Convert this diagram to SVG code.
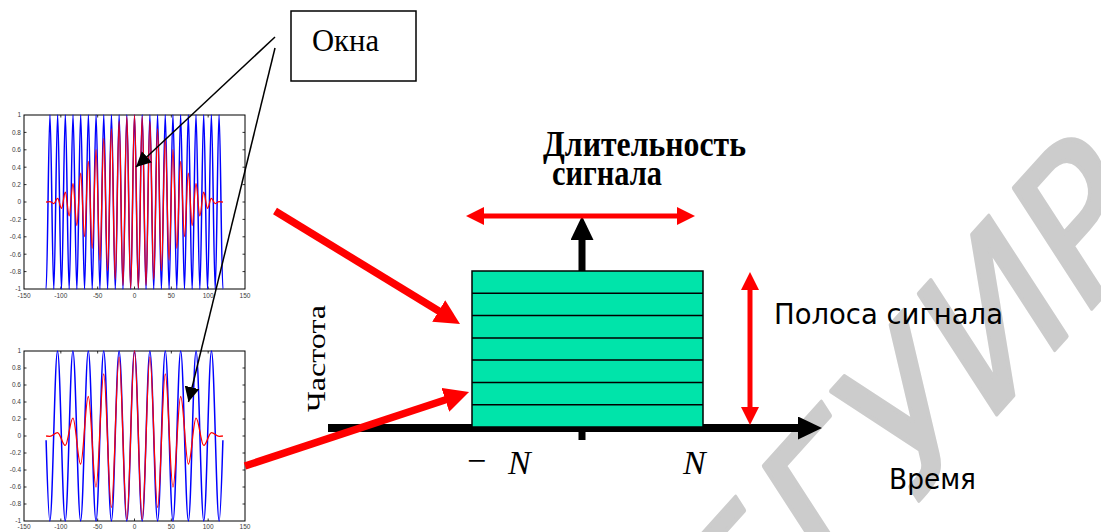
<svg xmlns="http://www.w3.org/2000/svg" width="1101" height="532" viewBox="0 0 1101 532">
<style>
.wm{font-family:"DejaVu Sans",sans-serif;font-size:190px;fill:#cccccc;stroke:#cccccc;stroke-width:4;stroke-linejoin:round}
.ax{fill:#fff;stroke:#000;stroke-width:1}
.tk{fill:none;stroke:#000;stroke-width:0.8}
.tl{font-family:"Liberation Sans",Arial,sans-serif;font-size:6.5px;fill:#3a3a3a}
.blue{fill:none;stroke:#0000ff;stroke-width:1.5}
.red{fill:none;stroke:#ff0000;stroke-width:1.3}
.thin{fill:none;stroke:#000;stroke-width:1.5}
.rthick{fill:none;stroke:#ff0000;stroke-width:7.5}
.rmid{fill:none;stroke:#ff0000;stroke-width:5}
.bthick{fill:none;stroke:#000;stroke-width:8}
.serif{font-family:"Liberation Serif","Times New Roman",serif;fill:#000}
.sans{font-family:"DejaVu Sans",Verdana,sans-serif;fill:#000;font-size:29px}
.strip{stroke:#000;stroke-width:1.5}
</style>
<defs>
<marker id="ahThin" markerWidth="16" markerHeight="16" refX="15" refY="7.5" orient="auto" markerUnits="userSpaceOnUse"><path d="M0,0 L15,7.5 L0,15 z" fill="#000"/></marker>
<marker id="ahRed" markerWidth="26" markerHeight="26" refX="2" refY="12.5" orient="auto" markerUnits="userSpaceOnUse"><path d="M0,0 L25,12.5 L0,25 z" fill="#ff0000"/></marker>
<marker id="ahRedS" markerWidth="19" markerHeight="19" refX="2" refY="9" orient="auto-start-reverse" markerUnits="userSpaceOnUse"><path d="M0,0 L18,9 L0,18 z" fill="#ff0000"/></marker>
<marker id="ahBlk" markerWidth="25" markerHeight="25" refX="2" refY="11.5" orient="auto" markerUnits="userSpaceOnUse"><path d="M0,0 L24,11.5 L0,23 z" fill="#000"/></marker>
</defs>
<rect width="1101" height="532" fill="#fff"/>
<g id="watermark">
<text class="wm" transform="translate(742,697) rotate(-48) skewX(-15)">БГУИР</text>
</g>
<g id="plot-top">
<rect class="ax" x="24" y="115" width="221" height="174"/>
<path class="tk" d="M60.83,289v-2.5M97.67,289v-2.5M134.5,289v-2.5M171.33,289v-2.5M208.17,289v-2.5M60.83,115v2.5M97.67,115v2.5M134.5,115v2.5M171.33,115v2.5M208.17,115v2.5M24,132.4h2.5M24,149.8h2.5M24,167.2h2.5M24,184.6h2.5M24,202h2.5M24,219.4h2.5M24,236.8h2.5M24,254.2h2.5M24,271.6h2.5M245,132.4h-2.5M245,149.8h-2.5M245,167.2h-2.5M245,184.6h-2.5M245,202h-2.5M245,219.4h-2.5M245,236.8h-2.5M245,254.2h-2.5M245,271.6h-2.5"/>
<path class="blue" d="M46.10,289 c1.397,0 2.447,-174 3.8435,-174 s2.447,174 3.8435,174 s2.447,-174 3.8435,-174 s2.447,174 3.8435,174 s2.447,-174 3.8435,-174 s2.447,174 3.8435,174 s2.447,-174 3.8435,-174 s2.447,174 3.8435,174 s2.447,-174 3.8435,-174 s2.447,174 3.8435,174 s2.447,-174 3.8435,-174 s2.447,174 3.8435,174 s2.447,-174 3.8435,-174 s2.447,174 3.8435,174 s2.447,-174 3.8435,-174 s2.447,174 3.8435,174 s2.447,-174 3.8435,-174 s2.447,174 3.8435,174 s2.447,-174 3.8435,-174 s2.447,174 3.8435,174 s2.447,-174 3.8435,-174 s2.447,174 3.8435,174 s2.447,-174 3.8435,-174 s2.447,174 3.8435,174 s2.447,-174 3.8435,-174 s2.447,174 3.8435,174 s2.447,-174 3.8435,-174 s2.447,174 3.8435,174 s2.447,-174 3.8435,-174 s2.447,174 3.8435,174 s2.447,-174 3.8435,-174 s2.447,174 3.8435,174 s2.447,-174 3.8435,-174 s2.447,174 3.8435,174 s2.447,-174 3.8435,-174 s2.447,174 3.8435,174 s2.447,-174 3.8435,-174 s2.447,174 3.8435,174 s2.447,-174 3.8435,-174 s2.447,174 3.8435,174 s2.447,-174 3.8435,-174 s2.447,174 3.8435,174 s2.447,-174 3.8435,-174 s2.447,174 3.8435,174 s2.447,-174 3.8435,-174 s2.447,174 3.8435,174"/>
<path class="red" d="M46.10,202 C47.50,202 48.54,201.59 49.94,201.59 S52.39,203.61 53.79,203.61 S56.23,198.40 57.63,198.40 S60.07,208.33 61.47,208.33 S63.92,192.24 65.32,192.24 S67.76,215.81 69.16,215.81 S71.60,183.59 73.00,183.59 S75.45,225.49 76.85,225.49 S79.29,173.07 80.69,173.07 S83.13,236.65 84.53,236.65 S86.98,161.47 88.38,161.47 S90.82,248.47 92.22,248.47 S94.67,149.65 96.07,149.65 S98.51,260.07 99.91,260.07 S102.35,138.49 103.75,138.49 S106.20,270.59 107.60,270.59 S110.04,128.81 111.44,128.81 S113.88,279.24 115.28,279.24 S117.73,121.33 119.13,121.33 S121.57,285.40 122.97,285.40 S125.41,116.61 126.81,116.61 S129.26,288.60 130.66,288.60 S133.10,115 134.50,115 S136.94,288.60 138.34,288.60 S140.79,116.61 142.19,116.61 S144.63,285.40 146.03,285.40 S148.47,121.33 149.87,121.33 S152.32,279.24 153.72,279.24 S156.16,128.81 157.56,128.81 S160.00,270.59 161.40,270.59 S163.85,138.49 165.25,138.49 S167.69,260.07 169.09,260.07 S171.54,149.65 172.94,149.65 S175.38,248.47 176.78,248.47 S179.22,161.47 180.62,161.47 S183.07,236.65 184.47,236.65 S186.91,173.07 188.31,173.07 S190.75,225.49 192.15,225.49 S194.60,183.59 196.00,183.59 S198.44,215.81 199.84,215.81 S202.28,192.24 203.68,192.24 S206.13,208.33 207.53,208.33 S209.97,198.40 211.37,198.40 S213.81,203.61 215.21,203.61 S217.66,201.59 219.06,201.59 S221.50,202 222.90,202"/>
<g class="tl" text-anchor="end">
<text x="21" y="117.3">1</text><text x="21" y="134.7">0.8</text><text x="21" y="152.1">0.6</text><text x="21" y="169.5">0.4</text><text x="21" y="186.9">0.2</text><text x="21" y="204.3">0</text><text x="21" y="221.7">-0.2</text><text x="21" y="239.1">-0.4</text><text x="21" y="256.5">-0.6</text><text x="21" y="273.9">-0.8</text><text x="21" y="291.3">-1</text>
</g>
<g class="tl" text-anchor="middle">
<text x="24" y="297.5">-150</text><text x="60.83" y="297.5">-100</text><text x="97.67" y="297.5">-50</text><text x="134.5" y="297.5">0</text><text x="171.33" y="297.5">50</text><text x="208.17" y="297.5">100</text><text x="245" y="297.5">150</text>
</g>
</g>
<g id="plot-bottom">
<rect class="ax" x="24" y="351" width="221" height="170"/>
<path class="tk" d="M60.83,521v-2.5M97.67,521v-2.5M134.5,521v-2.5M171.33,521v-2.5M208.17,521v-2.5M60.83,351v2.5M97.67,351v2.5M134.5,351v2.5M171.33,351v2.5M208.17,351v2.5M24,368h2.5M24,385h2.5M24,402h2.5M24,419h2.5M24,436h2.5M24,453h2.5M24,470h2.5M24,487h2.5M24,504h2.5M245,368h-2.5M245,385h-2.5M245,402h-2.5M245,419h-2.5M245,436h-2.5M245,453h-2.5M245,470h-2.5M245,487h-2.5M245,504h-2.5"/>
<path class="blue" d="M46.10,440.3 C47.34,482.6 48.60,521 49.82,521 c2.80,0 4.90,-170 7.698,-170 s4.90,170 7.698,170 s4.90,-170 7.698,-170 s4.90,170 7.698,170 s4.90,-170 7.698,-170 s4.90,170 7.698,170 s4.90,-170 7.698,-170 s4.90,170 7.698,170 s4.90,-170 7.698,-170 s4.90,170 7.698,170 s4.90,-170 7.698,-170 s4.90,170 7.698,170 s4.90,-170 7.698,-170 s4.90,170 7.698,170 s4.90,-170 7.698,-170 s4.90,170 7.698,170 s4.90,-170 7.698,-170 s4.90,170 7.698,170 s4.90,-170 7.698,-170 s4.90,170 7.698,170 s4.90,-170 7.698,-170 s4.90,170 7.698,170 c1.24,0 2.48,-38.4 3.72,-80.7"/>
<path class="red" d="M46.10,436 L49.82,436.37 C52.62,436.37 54.72,432.55 57.52,432.55 S62.42,445.43 65.22,445.43 S70.12,418.12 72.92,418.12 S77.81,464.15 80.61,464.15 S85.51,396.50 88.31,396.50 S93.21,487.07 96.01,487.07 S100.91,374.01 103.71,374.01 S108.61,507.47 111.41,507.47 S116.30,357.20 119.10,357.20 S124.00,519.42 126.80,519.42 S131.70,351 134.50,351 S139.40,519.42 142.20,519.42 S147.10,357.20 149.90,357.20 S154.79,507.47 157.59,507.47 S162.49,374.01 165.29,374.01 S170.19,487.07 172.99,487.07 S177.89,396.50 180.69,396.50 S185.59,464.15 188.39,464.15 S193.28,418.12 196.08,418.12 S200.98,445.43 203.78,445.43 S208.68,432.55 211.48,432.55 S216.38,436.37 219.18,436.37 L222.90,436"/>
<g class="tl" text-anchor="end">
<text x="21" y="353.3">1</text><text x="21" y="370.3">0.8</text><text x="21" y="387.3">0.6</text><text x="21" y="404.3">0.4</text><text x="21" y="421.3">0.2</text><text x="21" y="438.3">0</text><text x="21" y="455.3">-0.2</text><text x="21" y="472.3">-0.4</text><text x="21" y="489.3">-0.6</text><text x="21" y="506.3">-0.8</text><text x="21" y="523.3">-1</text>
</g>
<g class="tl" text-anchor="middle">
<text x="24" y="529">-150</text><text x="60.83" y="529">-100</text><text x="97.67" y="529">-50</text><text x="134.5" y="529">0</text><text x="171.33" y="529">50</text><text x="208.17" y="529">100</text><text x="245" y="529">150</text>
</g>
</g>
<g id="axes">
<line class="bthick" x1="328" y1="428" x2="800" y2="428" marker-end="url(#ahBlk)"/>
<line x1="582" y1="440" x2="582" y2="238" stroke="#000" stroke-width="7" marker-end="url(#ahBlk)"/>
</g>
<g id="tf-plane">
<rect x="472" y="271" width="231" height="156" fill="#00e4aa" stroke="#000" stroke-width="1.5"/>
<path class="strip" d="M472,293.3H703M472,315.6H703M472,337.9H703M472,360.1H703M472,382.4H703M472,404.7H703"/>
</g>
<g id="okna">
<rect x="291" y="11" width="125" height="70" fill="#fff" stroke="#000" stroke-width="1.5"/>
<text class="serif" x="312" y="51" font-size="31" textLength="67" lengthAdjust="spacingAndGlyphs">Окна</text>
</g>
<g id="connectors">
<line class="thin" x1="275" y1="37" x2="136" y2="167" marker-end="url(#ahThin)"/>
<line class="thin" x1="275" y1="48" x2="188.5" y2="402" marker-end="url(#ahThin)"/>
<line class="rthick" x1="275" y1="211" x2="440.4" y2="312" marker-end="url(#ahRed)"/>
<line class="rthick" x1="245" y1="466" x2="447.2" y2="399.2" marker-end="url(#ahRed)"/>
<line class="rmid" x1="482" y1="216" x2="679" y2="216" marker-start="url(#ahRedS)" marker-end="url(#ahRedS)"/>
<line class="rmid" x1="750" y1="288" x2="750" y2="409" marker-start="url(#ahRedS)" marker-end="url(#ahRedS)"/>
</g>
<g id="labels">
<text class="serif" x="543" y="156" font-size="35" font-weight="bold" textLength="203" lengthAdjust="spacingAndGlyphs">Длительность</text>
<text class="serif" x="552" y="185" font-size="35" font-weight="bold" textLength="110" lengthAdjust="spacingAndGlyphs">сигнала</text>
<text class="sans" x="774" y="324" textLength="229" lengthAdjust="spacingAndGlyphs">Полоса сигнала</text>
<text class="sans" x="889" y="489" textLength="87" lengthAdjust="spacingAndGlyphs">Время</text>
<text class="serif" transform="translate(325,412) rotate(-90)" font-size="26" textLength="107" lengthAdjust="spacingAndGlyphs">Частота</text>
<text class="serif" x="467" y="472" font-size="34">−</text>
<text class="serif" x="508" y="474" font-size="34" font-style="italic">N</text>
<text class="serif" x="683" y="474" font-size="34" font-style="italic">N</text>
</g>
</svg>
